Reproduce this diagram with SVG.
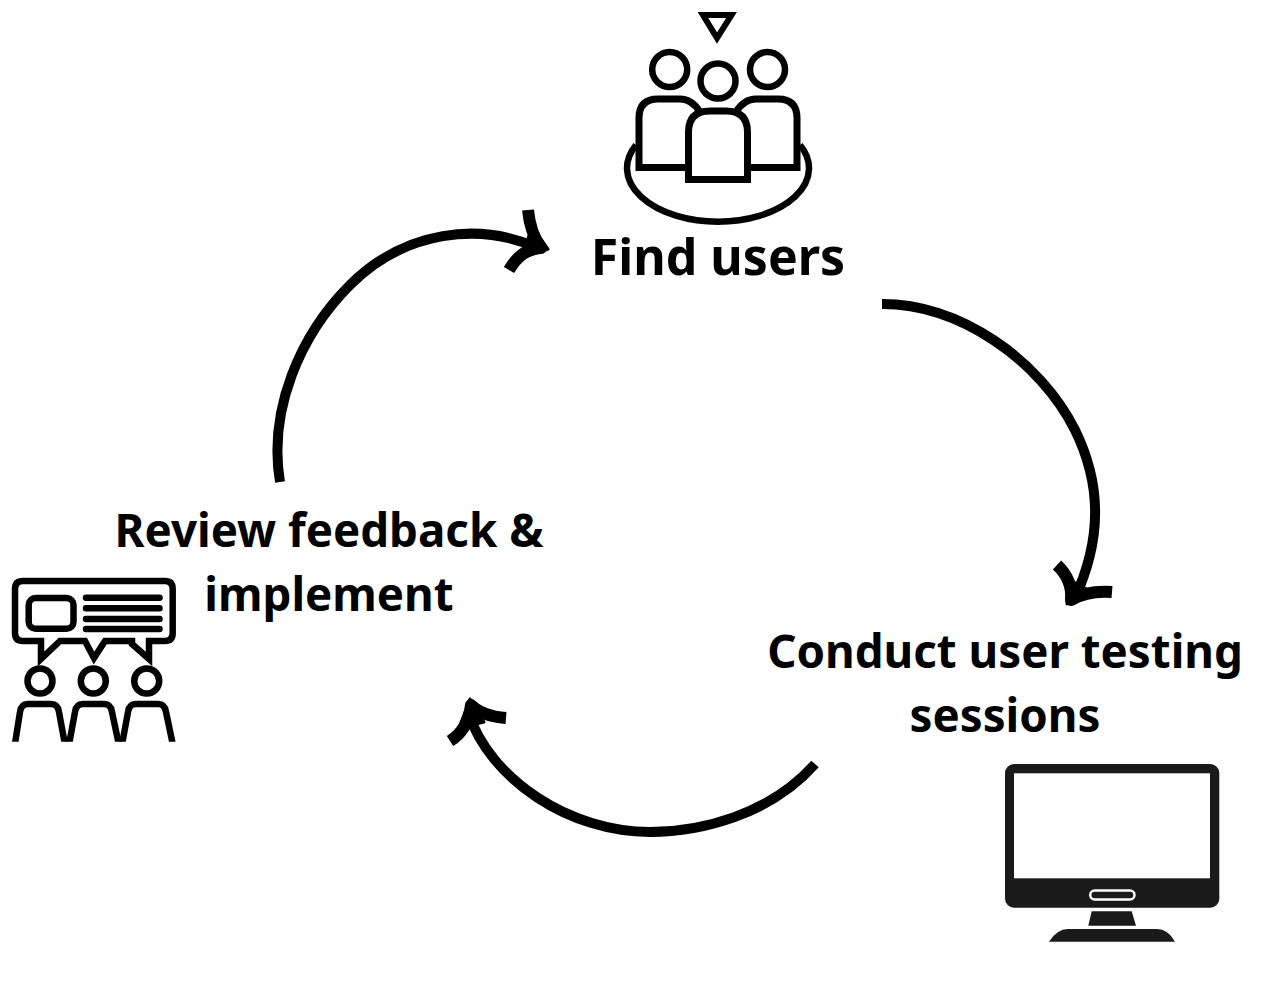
<svg xmlns="http://www.w3.org/2000/svg" width="1285" height="984" viewBox="0 0 1285 984">
<style>
.lbl{font-family:"Noto Sans","Open Sans",sans-serif;font-weight:700;font-size:45.700px;fill:#000;text-anchor:middle}
.ic{fill:none;stroke:#000;stroke-width:6.500}
.wh{fill:#fff;stroke:#000;stroke-width:7}
.cn{fill:none;stroke:#000;stroke-width:10}
.bar{fill:#000;stroke:#000;stroke-width:11;stroke-linejoin:round}
.bar2{fill:none;stroke:#000;stroke-width:12;stroke-linejoin:round}
</style>
<defs><clipPath id="cb"><rect x="0" y="690" width="190" height="51.700"/></clipPath></defs>
<rect width="1285" height="984" fill="#fff"/>
<g id="connectors">
<path class="cn" d="M882,304 C960,304 1040,360 1075,430 C1102,485 1102,540 1074,600"/>
<path class="bar2" d="M1057,565 Q1073,580 1071,600 Q1088,590 1112,592"/>
<path class="bar" style="stroke-width:3" d="M1070,580L1067,604L1092,592Z"/>
<path class="cn" d="M815,764 C770,815 700,832 650,832 C570,832 490,780 468,712"/>
<path class="bar2" d="M450,741 Q468,730 471,705 Q482,716 506,718"/>
<path class="bar" style="stroke-width:3" d="M470,699L459,728L484,722Z"/>
<path class="cn" d="M280,482 C268,410 300,335 350,285 C405,230 480,222 538,248"/>
<path class="bar2" d="M528,210 Q530,232 541,248 Q522,248 509,270"/>
<path class="bar" style="stroke-width:3" d="M548,249L532,226L522,258Z"/>
</g>
<g id="find-users">
<path class="ic" style="stroke-width:6" d="M703,15H731.500L717,38Z"/>
<path class="ic" d="M636,145A91,53.500 0 1 0 800,145"/>
<circle class="ic" cx="669.700" cy="69.500" r="17.500"/>
<circle class="ic" cx="718" cy="81" r="17.500"/>
<circle class="ic" cx="767.500" cy="69.500" r="17.500"/>
<path class="wh" d="M700,112Q692,99 680,99H658Q639,99 639,118V167.500H695"/>
<path class="wh" d="M736,112Q744,99 756,99H778Q797,99 797,118V167.500H741"/>
<path class="wh" d="M688.500,179.500V132Q688.500,111 710,111H726Q747.500,111 747.500,132V179.500Z"/>
<text class="lbl" x="718" y="275" style="font-size:50px">Find users</text>
</g>
<g id="review-feedback">
<path class="ic" d="M23,641Q15,641 15,633V589Q15,581 23,581H165Q172.700,581 172.700,589V633Q172.700,641 165,641H149V659L132,644V641H105L94,658L85,641H60L41,659V641Z"/>
<rect class="ic" x="28.700" y="598" width="44.800" height="30.700" rx="7"/>
<path class="ic" stroke-linecap="round" d="M86,597.700H159.500M86,608.300H159.500M86,619H159.500M86,629H159.500"/>
<circle class="ic" cx="40" cy="681" r="12.500"/>
<circle class="ic" cx="93.300" cy="681" r="12.500"/>
<circle class="ic" cx="146.700" cy="681" r="12.500"/>
<g clip-path="url(#cb)">
<path class="ic" d="M14,750L20,712Q21,704 28,704H51Q58,704 59,712L66,750"/>
<path class="ic" d="M68,750L75,712Q76,704 83,704H104Q111,704 112,712L120,750"/>
<path class="ic" d="M121,750L128,712Q129,704 136,704H158Q165,704 166,712L174,750"/>
</g>
<text class="lbl" x="329" y="547">Review feedback &amp;</text>
<text class="lbl" x="329" y="611">implement</text>
</g>
<g id="conduct-testing">
<rect x="1005" y="764" width="214.300" height="143.700" rx="9" fill="#1a1a1a"/>
<rect x="1014" y="773.300" width="196" height="105" fill="#fff"/>
<rect x="1090.200" y="890.500" width="44.300" height="9" rx="4.500" fill="none" stroke="#fff" stroke-width="2.500"/>
<path fill="#1a1a1a" d="M1091.700,911.300H1131.700L1136,925.700H1088.300Z"/>
<path fill="#1a1a1a" d="M1049,941.700Q1057,929 1068,929H1157Q1168,929 1175,941.700Z"/>
<text class="lbl" x="1005" y="668">Conduct user testing</text>
<text class="lbl" x="1005" y="732">sessions</text>
</g>
</svg>
